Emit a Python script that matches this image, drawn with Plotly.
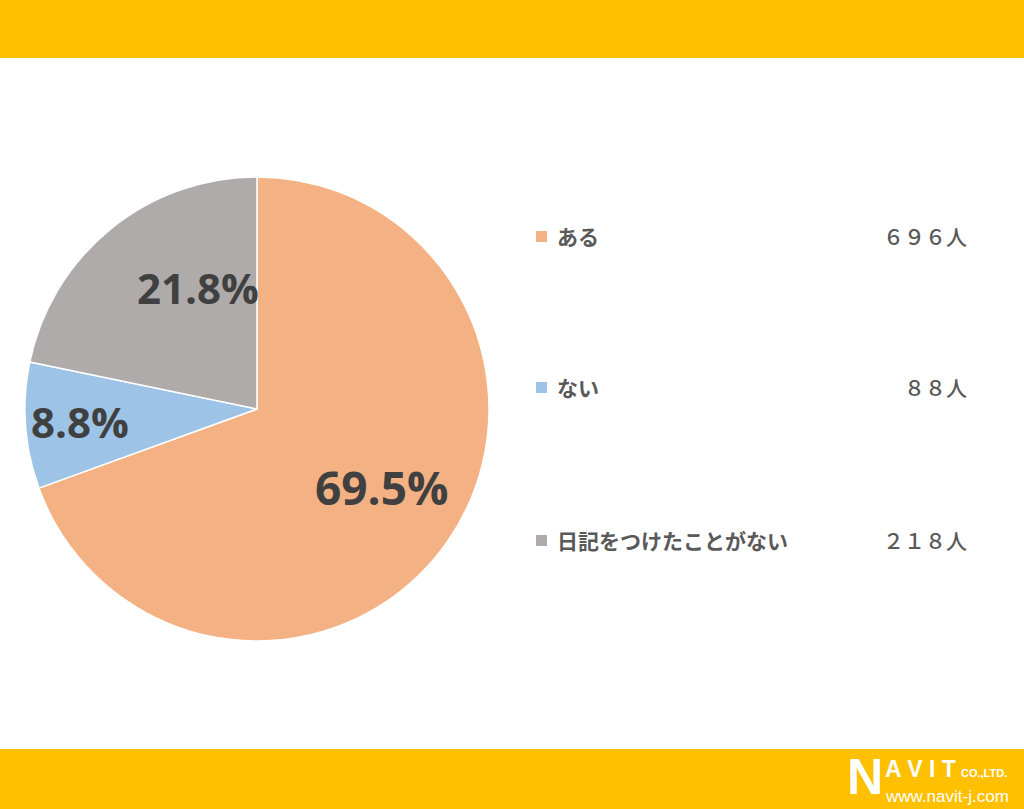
import plotly.graph_objects as go

categories = ["ある", "ない", "日記をつけたことがない"]
values = [696, 88, 218]
count_labels = ["６９６人", "８８人", "２１８人"]
colors = ["#F4B183", "#9DC3E6", "#AFABAB"]

W, H = 1024, 809

def px(x):
    return x / W

def py(y):
    return 1 - y / H

total = sum(values)
pct_text = [f"{v / total * 100:.1f}%" for v in values]

fig = go.Figure()
fig.add_trace(go.Pie(
    labels=categories,
    values=values,
    sort=False,
    direction="clockwise",
    rotation=0,
    marker=dict(colors=colors, line=dict(color="white", width=1.5)),
    textinfo="none",
    hoverinfo="label+value+percent",
    showlegend=False,
    domain=dict(x=[px(25), px(489)], y=[py(641), py(177)]),
))

annotations = []
# percentage labels (placement like the source's best-fit labels)
label_pos = [(381, 487, 46), (80, 421, 42), (198, 287, 42)]
for t, (x, y, s) in zip(pct_text, label_pos):
    annotations.append(dict(x=px(x), y=py(y), xref="paper", yref="paper", text=f"<b>{t}</b>",
                            showarrow=False, xanchor="center", yanchor="middle",
                            font=dict(family="Open Sans", size=s, color="#404040")))

# legend
legend_y = [236, 387, 540]
shapes = []
for cat, cnt, col, y in zip(categories, count_labels, colors, legend_y):
    shapes.append(dict(type="rect", xref="paper", yref="paper",
                       x0=px(536), x1=px(547), y0=py(y + 6), y1=py(y - 5),
                       fillcolor=col, line=dict(width=0)))
    annotations.append(dict(x=px(555), y=py(y), xref="paper", yref="paper", text=cat,
                            showarrow=False, xanchor="left", yanchor="middle",
                            font=dict(family="Noto Sans CJK JP", size=21, color="#595959", weight=600)))
    annotations.append(dict(x=px(969), y=py(y), xref="paper", yref="paper", text=cnt,
                            showarrow=False, xanchor="right", yanchor="middle",
                            font=dict(family="Noto Sans CJK JP", size=21, color="#595959", weight=500)))

# top and bottom bars
shapes.append(dict(type="rect", xref="paper", yref="paper", x0=0, x1=1, y0=py(58), y1=1,
                   fillcolor="#FFC000", line=dict(width=0), layer="below"))
shapes.append(dict(type="rect", xref="paper", yref="paper", x0=0, x1=1, y0=0, y1=py(749),
                   fillcolor="#FFC000", line=dict(width=0), layer="below"))

# logo
logo = [
    (846, 777, "<b>N</b>", 50),
    (884, 769, "<b>A V I T</b>", 23),
    (960, 773, "<b>CO.,LTD.</b>", 11),
    (884, 796, "www.navit-j.com", 17),
]
for x, y, t, s in logo:
    annotations.append(dict(x=px(x), y=py(y), xref="paper", yref="paper", text=t,
                            showarrow=False, xanchor="left", yanchor="middle", borderpad=0,
                            font=dict(family="Liberation Sans", size=s, color="white")))

fig.update_layout(
    width=W, height=H,
    margin=dict(l=0, r=0, t=0, b=0),
    paper_bgcolor="white",
    plot_bgcolor="white",
    shapes=shapes,
    annotations=annotations,
)

fig.write_html("out.html", config={"displayModeBar": False},
               post_script="document.body.style.margin='0';document.body.style.padding='0';")
